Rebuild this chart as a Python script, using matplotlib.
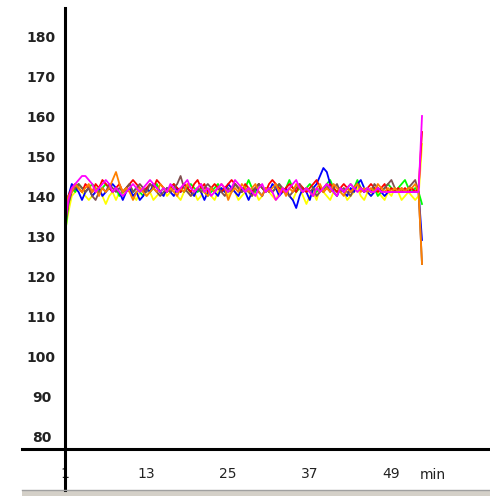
import numpy as np
import matplotlib
matplotlib.use("Agg")
import matplotlib.pyplot as plt
from matplotlib.lines import Line2D
from matplotlib.patches import Rectangle
import matplotlib.transforms as mtransforms

# readings every half minute from minute 1; last value is the end-of-run spike
red = [134, 140, 142, 143, 142, 141, 143, 142, 141, 143,
       142, 144, 143, 142, 141, 142, 143, 141, 142, 143,
       144, 143, 142, 141, 142, 143, 142, 144, 143, 142,
       141, 142, 143, 142, 141, 143, 142, 141, 143, 144,
       142, 143, 141, 142, 143, 142, 141, 142, 143, 144,
       143, 142, 141, 143, 142, 141, 142, 143, 142, 141,
       143, 144, 143, 142, 141, 142, 143, 142, 141, 143,
       142, 141, 142, 143, 144, 142, 141, 142, 143, 142,
       141, 142, 143, 142, 141, 142, 143, 142, 141, 142,
       143, 142, 141, 142, 143, 141, 142, 141, 142, 141,
       142, 141, 142, 141, 142, 156]
green = [130, 138, 142, 141, 143, 142, 141, 142, 143, 142,
         141, 142, 143, 142, 141, 142, 140, 141, 142, 143,
         141, 142, 141, 140, 142, 141, 142, 143, 141, 142,
         141, 142, 143, 141, 142, 141, 142, 143, 142, 141,
         142, 141, 140, 141, 142, 143, 141, 142, 141, 142,
         143, 142, 141, 142, 144, 142, 141, 143, 142, 141,
         142, 141, 142, 143, 141, 142, 144, 142, 141, 142,
         141, 142, 143, 142, 141, 142, 141, 143, 144, 142,
         141, 142, 141, 142, 143, 142, 144, 142, 141, 142,
         141, 142, 140, 141, 142, 143, 142, 141, 142, 143,
         144, 142, 141, 142, 141, 138]
blue = [135, 140, 143, 142, 141, 139, 141, 142, 140, 141,
        142, 140, 141, 142, 143, 142, 141, 139, 141, 142,
        140, 141, 139, 140, 142, 141, 143, 142, 141, 140,
        142, 141, 140, 142, 141, 143, 142, 141, 140, 142,
        141, 139, 141, 142, 141, 140, 142, 141, 143, 142,
        141, 140, 142, 141, 139, 141, 142, 141, 140, 142,
        141, 143, 142, 140, 141, 142, 140, 139, 137, 140,
        142, 141, 139, 142, 143, 145, 147, 146, 143, 141,
        140, 142, 141, 140, 142, 141, 143, 144, 142, 141,
        140, 141, 142, 141, 140, 141, 141, 141, 141, 141,
        141, 141, 141, 141, 141, 129]
yellow = [131, 136, 140, 141, 142, 141, 140, 139, 140, 141,
          142, 140, 138, 140, 141, 139, 141, 140, 142, 141,
          140, 139, 141, 142, 140, 141, 139, 140, 141, 142,
          140, 141, 142, 140, 139, 141, 142, 140, 141, 139,
          140, 142, 141, 140, 139, 141, 142, 141, 140, 142,
          141, 139, 140, 141, 142, 140, 141, 139, 140, 142,
          141, 140, 139, 141, 142, 141, 140, 139, 141, 142,
          140, 138, 140, 141, 139, 142, 141, 140, 139, 141,
          140, 142, 141, 139, 140, 141, 142, 140, 139, 141,
          140, 142, 141, 140, 139, 141, 140, 142, 141, 139,
          140, 141, 140, 139, 140, 153]
magenta = [133, 139, 142, 143, 144, 145, 145, 144, 143, 141,
           142, 143, 144, 143, 141, 142, 141, 140, 141, 142,
           143, 142, 141, 142, 143, 144, 143, 142, 141, 142,
           141, 143, 142, 141, 142, 143, 144, 142, 141, 142,
           143, 141, 142, 140, 141, 142, 143, 142, 141, 142,
           144, 143, 142, 141, 142, 141, 140, 142, 143, 141,
           142, 141, 139, 140, 142, 141, 142, 143, 144, 142,
           141, 142, 141, 140, 142, 141, 142, 143, 142, 141,
           140, 142, 141, 142, 143, 142, 141, 142, 141, 142,
           141, 141, 142, 141, 141, 141, 141, 141, 141, 141,
           141, 141, 141, 141, 141, 160]
orange = [137, 140, 141, 143, 142, 141, 142, 143, 141, 142,
          140, 142, 141, 142, 144, 146, 143, 141, 142, 141,
          139, 141, 142, 141, 140, 141, 142, 141, 143, 142,
          141, 142, 141, 140, 142, 141, 143, 142, 141, 142,
          143, 141, 140, 142, 141, 142, 143, 142, 139, 141,
          142, 141, 143, 142, 141, 142, 143, 141, 140, 142,
          141, 142, 143, 141, 142, 140, 142, 141, 143, 142,
          141, 142, 141, 140, 142, 143, 141, 142, 141, 143,
          142, 141, 140, 142, 141, 142, 143, 141, 142, 141,
          142, 141, 143, 142, 141, 142, 141, 142, 141, 142,
          141, 142, 142, 143, 141, 123]
brown = [132, 138, 141, 142, 143, 142, 141, 142, 140, 139,
         141, 142, 141, 143, 142, 141, 142, 141, 142, 143,
         141, 142, 143, 142, 141, 143, 142, 141, 140, 141,
         142, 141, 142, 143, 145, 142, 141, 140, 141, 142,
         141, 142, 143, 142, 141, 142, 141, 140, 142, 141,
         143, 142, 141, 142, 141, 140, 142, 143, 142, 141,
         142, 141, 142, 143, 142, 141, 140, 141, 142, 143,
         141, 142, 141, 142, 140, 141, 142, 143, 141, 142,
         143, 141, 142, 141, 140, 142, 143, 142, 141, 142,
         141, 143, 142, 141, 142, 143, 144, 142, 141, 142,
         141, 142, 143, 144, 141, 123]

y_ticks = [80, 90, 100, 110, 120, 130, 140, 150, 160, 170, 180]
x_ticks = [1, 13, 25, 37, 49]

series = [
    (yellow, "#ffff00"),
    (green, "#00ff00"),
    (blue, "#0000ff"),
    (red, "#ff0000"),
    (brown, "#805050"),
    (orange, "#ff8000"),
    (magenta, "#ff00ff"),
]

W, H = 490, 496
fig = plt.figure(figsize=(W / 100, H / 100), dpi=100)
fig.patch.set_facecolor("white")

x0, x1 = 65, 490
y_top, y_axis = 8, 449
ax = fig.add_axes([x0 / W, (H - y_axis) / H, (x1 - x0) / W, (y_axis - y_top) / H])

for vals, col in series:
    minutes = [1 + 0.5 * i for i in range(len(vals))]
    ax.plot(minutes, vals, color=col, lw=1.3)

ax.set_xlim(1, 1 + (x1 - x0) / 6.8)
ax.set_ylim(80 - (y_axis - 436) / 4, 80 + (436 - y_top) / 4)

for s in ["top", "right"]:
    ax.spines[s].set_visible(False)
for s in ["left", "bottom"]:
    ax.spines[s].set_linewidth(2.2)
    ax.spines[s].set_color("black")

ax.set_yticks(y_ticks)
ax.set_yticklabels([str(v) for v in y_ticks])
ax.set_xticks(x_ticks)
ax.set_xticklabels([str(v) for v in x_ticks])
ax.tick_params(axis="y", length=0, pad=17, labelsize=10, labelcolor="#222222")
ax.tick_params(axis="x", length=0, pad=13, labelsize=10, labelcolor="#222222")
for lab in ax.get_yticklabels():
    lab.set_horizontalalignment("center")
    lab.set_fontweight("bold")

trans = mtransforms.blended_transform_factory(ax.transData, ax.transAxes)
ax.text(55.1, -0.058, "min", transform=trans, ha="center", va="center",
        fontsize=10, color="#222222")

# axis extensions and bottom bar
fig.add_artist(Line2D([22 / W, x0 / W], [(H - y_axis) / H] * 2, color="black", lw=2.2))
fig.add_artist(Line2D([x0 / W] * 2, [(H - y_axis) / H, (H - 490) / H], color="black", lw=2.2))
fig.add_artist(Rectangle((22 / W, 0), (W - 22) / W, 6 / H, transform=fig.transFigure,
                         facecolor="#d4d0c8", edgecolor="none"))
fig.add_artist(Line2D([22 / W, 1], [6 / H] * 2, color="#a0a0a0", lw=1))

fig.savefig("out.png", dpi=100)
